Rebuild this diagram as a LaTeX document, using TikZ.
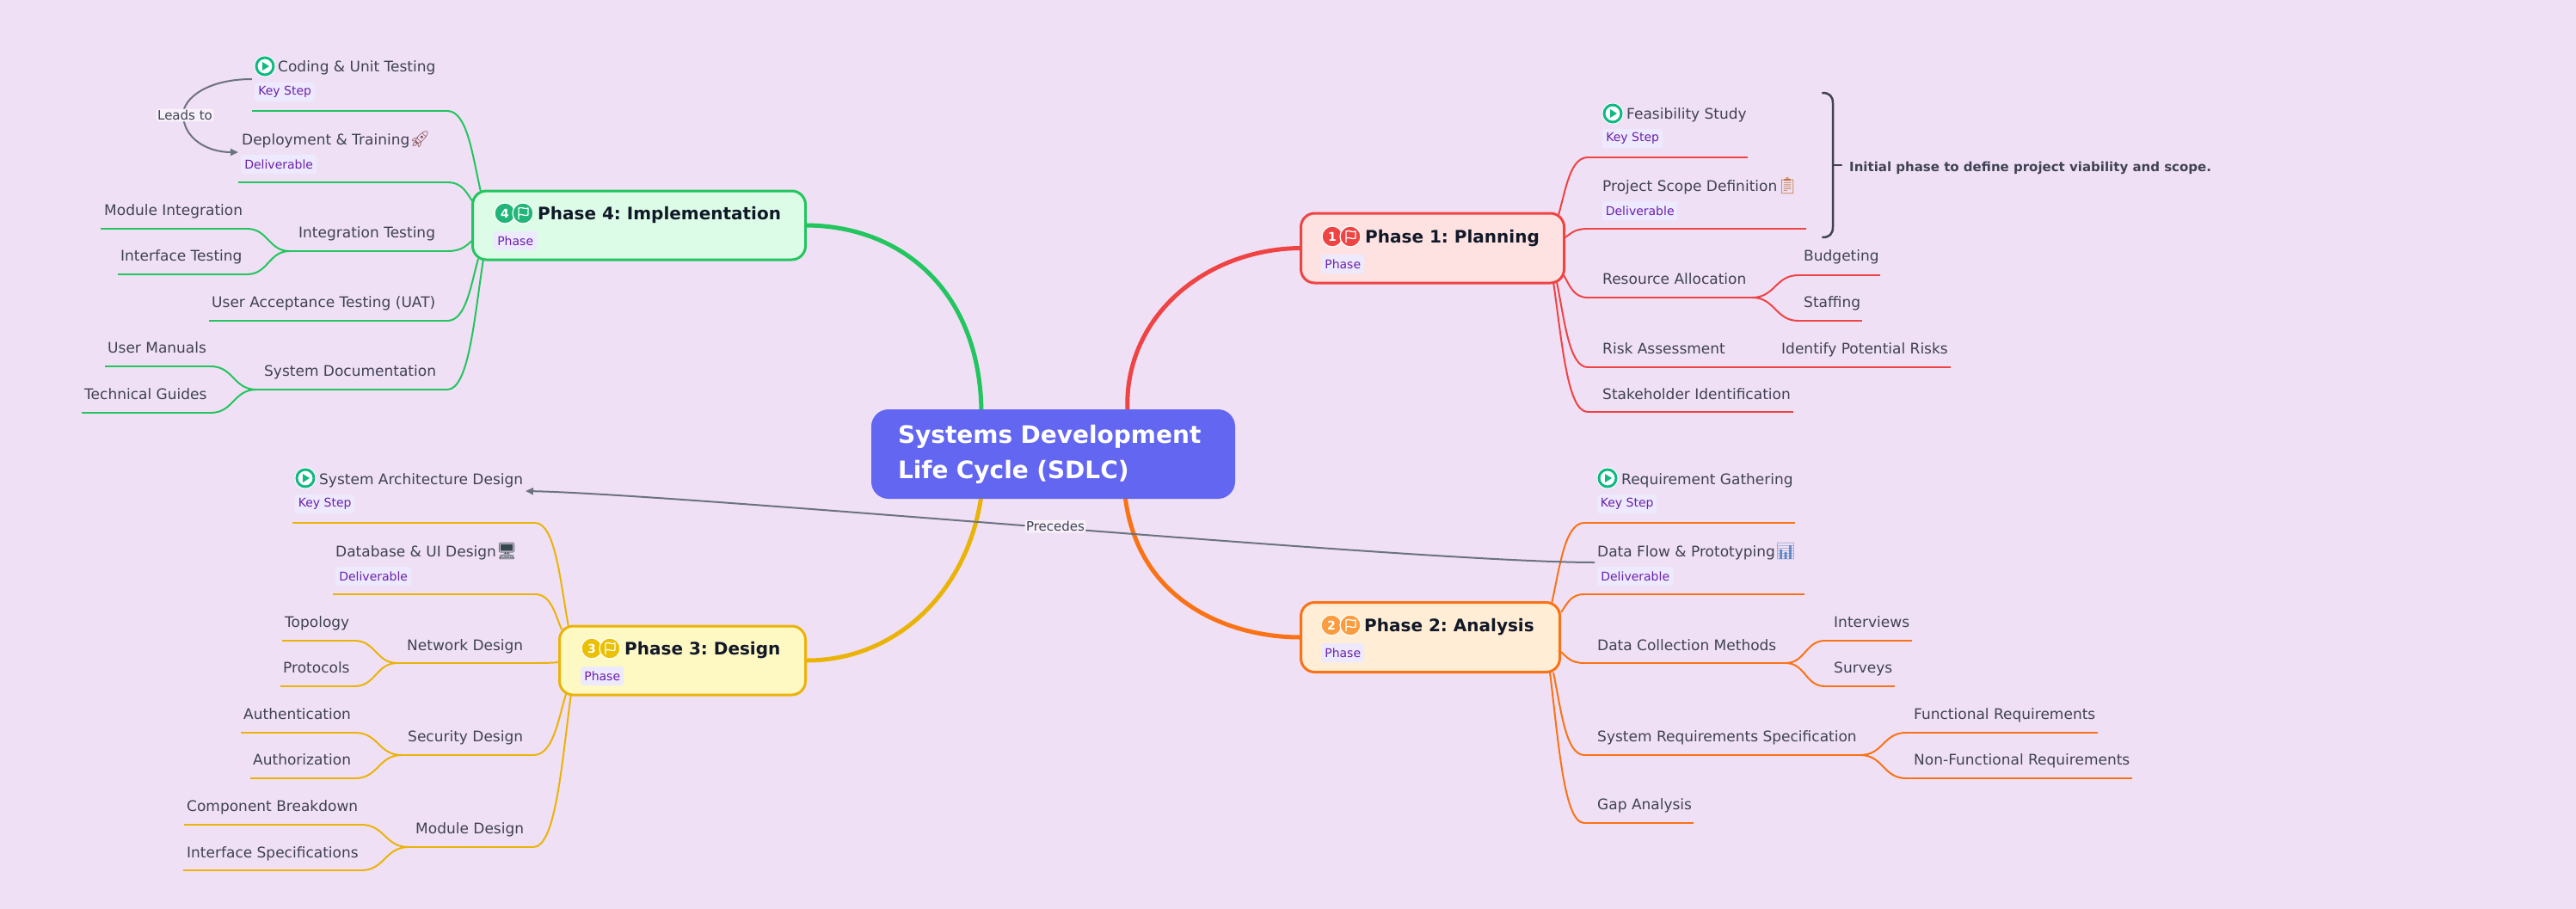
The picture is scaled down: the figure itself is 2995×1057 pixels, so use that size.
\documentclass[tikz,border=0pt]{standalone}
\usepackage{fontspec}
\setmainfont{DejaVu Sans}
\newfontfamily\emojifont{Noto Emoji}
\usetikzlibrary{arrows.meta,calc,backgrounds}
\definecolor{bgc}{HTML}{F0E0F5}
\definecolor{inkc}{HTML}{3F4254}
\definecolor{titlec}{HTML}{111827}
\definecolor{chipc}{HTML}{EDE9FE}
\definecolor{chiptx}{HTML}{6B21A8}
\definecolor{centralc}{HTML}{6366F1}
\definecolor{redc}{HTML}{EF4444}
\definecolor{orac}{HTML}{F97316}
\definecolor{yelc}{HTML}{EAB308}
\definecolor{grnc}{HTML}{22C55E}
\definecolor{redf}{HTML}{FEE2E2}
\definecolor{oraf}{HTML}{FFEDD5}
\definecolor{yelf}{HTML}{FEF9C3}
\definecolor{grnf}{HTML}{DCFCE7}
\definecolor{emer}{HTML}{10B981}
\definecolor{grayc}{HTML}{6B7280}
\definecolor{halo}{HTML}{F8F1FA}
\definecolor{oradot}{HTML}{FB9D3F}
\definecolor{yeldot}{HTML}{EBC000}
\definecolor{grndot}{HTML}{22B57A}
\definecolor{rocketc}{HTML}{8A5560}
\definecolor{clipc}{HTML}{C0763F}
\definecolor{chartc}{HTML}{5E88C4}
\definecolor{deskc}{HTML}{37474F}
\tikzset{
  x=1pt,y=-1pt,
  topic/.style={inner sep=0pt,anchor=base west,text=inkc,font=\fontsize{17}{20}\selectfont},
  phasebox/.style={rectangle,rounded corners=16pt,line width=3pt,inner sep=0pt},
  phasetitle/.style={inner sep=0pt,anchor=base west,text=titlec,font=\fontsize{20}{24}\selectfont\bfseries},
  chipbox/.style={rectangle,rounded corners=3pt,fill=chipc,text=chiptx,inner sep=0pt,minimum height=22pt,anchor=north west,font=\fontsize{14}{16}\selectfont},
  numdot/.style={circle,inner sep=0pt,minimum size=24pt,draw=white,line width=1.2pt,text=white,font=\fontsize{14}{16}\selectfont\bfseries},
  flagline/.style={draw=white,line width=1.3pt,line join=round,fill=none},
  playring/.style={circle,inner sep=0pt,minimum size=20pt,draw=emer,line width=3pt,fill=white},
  branchline/.style={line width=2pt},
  mainline/.style={line width=5pt},
  rel/.style={draw=grayc,line width=2pt,-{Triangle[length=9pt,width=8pt]}},
  rellabel/.style={inner sep=1.5pt,rounded corners=3pt,fill=halo,text=inkc,font=\fontsize{15}{17}\selectfont},
  emoji/.style={inner sep=0pt,anchor=base west,font=\emojifont\fontsize{19}{21}\selectfont},
  bracepath/.style={draw=inkc,line width=2.5pt,line cap=round},
  summary/.style={inner sep=0pt,anchor=base west,text=inkc,font=\fontsize{15}{18}\selectfont\bfseries}
}
\pgfdeclarelayer{below}
\pgfsetlayers{below,main}
% name, left x, right x, y of a topic's underline
\newcommand{\tline}[4]{\coordinate (#1a) at (#2,#4);\coordinate (#1b) at (#3,#4);\draw[branchline] (#1a)--(#1b);}
% corner of underline to an anchor on the phase box
\newcommand{\kconn}[2]{\draw[branchline] let \p1=(#1),\p2=(#2) in (\p1) .. controls ({\x1+0.6*(\x2-\x1)},\y1) and ({\x2-0.25*(\x2-\x1)},{\y2-0.45*(\y2-\y1)}) .. (\p2);}
% S curve from a junction to a child underline
\newcommand{\sconn}[2]{\draw[branchline] let \p1=(#1),\p2=(#2) in (\p1) .. controls ({0.5*(\x1+\x2)},\y1) and ({0.5*(\x1+\x2)},\y2) .. (\p2);}
\newcommand{\ttext}[4]{\node[topic] (#1) at (#2,#3) {#4};}
\newcommand{\chip}[5]{\node[chipbox,minimum width=#4] (#1) at (#2,#3) {#5};}
\newcommand{\playmark}[3]{\node[circle,fill=white,minimum size=25pt,inner sep=0pt] (#1h) at (#2,#3) {};\node[playring] (#1) at (#2,#3) {};\fill[emer] ($(#1.center)+(-3,-5)$)--($(#1.center)+(5,0)$)--($(#1.center)+(-3,5)$)--cycle;}
\newcommand{\flagmark}[4]{\node[numdot,fill=#4] (#1) at (#2,#3) {};
  \draw[flagline] ($(#1.center)+(-5,7)$)--($(#1.center)+(-5,-6)$) .. controls ($(#1.center)+(-1,-8)$) and ($(#1.center)+(2,-4)$) .. ($(#1.center)+(6,-6)$)--($(#1.center)+(6,2)$) .. controls ($(#1.center)+(2,4)$) and ($(#1.center)+(-1,0)$) .. ($(#1.center)+(-5,2)$);}
\begin{document}
\frenchspacing
\begin{tikzpicture}
\useasboundingbox (0,0) rectangle (2995,1057);
\begin{pgfonlayer}{below}
\fill[bgc] (0,0) rectangle (2995,1057);
\end{pgfonlayer}

% central
\node[rectangle,rounded corners=20pt,fill=centralc,text=white,inner xsep=31pt,inner ysep=0pt,minimum height=104pt,text width=361pt,align=left,font=\fontsize{28}{41}\selectfont\bfseries] (central) at (1224.5,528) {Systems Development\\Life Cycle (SDLC)};
\coordinate (c1) at (1311,480);
\coordinate (c2) at (1308,576);
\coordinate (c3) at (1141,576);
\coordinate (c4) at (1141,480);

% phases
\node[phasebox,draw=redc,fill=redf,minimum width=306pt,minimum height=81pt] (p1) at (1665.5,288.5) {};
\node[phasebox,draw=orac,fill=oraf,minimum width=301pt,minimum height=81pt] (p2) at (1663,741) {};
\node[phasebox,draw=yelc,fill=yelf,minimum width=286pt,minimum height=80pt] (p3) at (793.5,768) {};
\node[phasebox,draw=grnc,fill=grnf,minimum width=387pt,minimum height=80pt] (p4) at (743,262) {};

\node[numdot,fill=redc] (n1) at (1549,275) {1};
\flagmark{f1}{1570}{275}{redc}
\node[phasetitle] (t1) at (1587,282) {Phase 1: Planning};
\chip{k1}{1536}{296}{50pt}{Phase}
\node[numdot,fill=oradot] (n2) at (1548,727) {2};
\flagmark{f2}{1570}{727}{oradot}
\node[phasetitle] (t2) at (1586,734) {Phase 2: Analysis};
\chip{k2}{1536}{748}{50pt}{Phase}
\node[numdot,fill=yeldot] (n3) at (688,754) {3};
\flagmark{f3}{709}{754}{yeldot}
\node[phasetitle] (t3) at (726,761) {Phase 3: Design};
\chip{k3}{675}{775}{50pt}{Phase}
\node[numdot,fill=grndot] (n4) at (587,248) {4};
\flagmark{f4}{608}{248}{grndot}
\node[phasetitle] (t4) at (625,255) {Phase 4: Implementation};
\chip{k4}{574}{269}{50pt}{Phase}

% main branches
\begin{pgfonlayer}{below}
\draw[mainline,redc] (p1.west) .. controls (1400,290) and (1305,370) .. (c1);
\draw[mainline,orac] (p2.west) .. controls (1430,741) and (1322,700) .. (c2);
\draw[mainline,yelc] (p3.east) .. controls (1040,768) and (1125,690) .. (c3);
\draw[mainline,grnc] (p4.east) .. controls (1050,263) and (1140,340) .. (c4);
\end{pgfonlayer}

% ---------- Phase 1 ----------
\playmark{ip11}{1875}{132}
\ttext{a11}{1891}{138}{Feasibility Study}
\chip{c11}{1863}{150}{70pt}{Key Step}
\ttext{a12}{1863}{222}{Project Scope Definition}
\node[emoji,text=clipc] (e12) at (2066,222) {📋};
\chip{c12}{1863}{234}{87pt}{Deliverable}
\ttext{a13}{1863}{330}{Resource Allocation}
\ttext{a131}{2097}{303}{Budgeting}
\ttext{a132}{2097}{357}{Staffing}
\ttext{a14}{1863}{411}{Risk Assessment}
\ttext{a141}{2071}{411}{Identify Potential Risks}
\ttext{a15}{1863}{464}{Stakeholder Identification}
\begin{pgfonlayer}{below}
\begin{scope}[color=redc]
\coordinate (r1) at (1812,250);\coordinate (r2) at (1820,276);\coordinate (r3) at (1818,320);\coordinate (r4) at (1810,328);\coordinate (r5) at (1806,328);
\tline{l11}{1846}{2032}{183}\kconn{l11a}{r1}
\tline{l12}{1846}{2100}{266}\kconn{l12a}{r2}
\tline{l13}{1846}{2037}{346}\kconn{l13a}{r3}
\tline{l131}{2091}{2186}{320}\sconn{l13b}{l131a}
\tline{l132}{2091}{2165}{373}\sconn{l13b}{l132a}
\tline{l14}{1846}{2268}{427}\kconn{l14a}{r4}
\tline{l15}{1846}{2085}{479}\kconn{l15a}{r5}
\end{scope}
\end{pgfonlayer}
% summary brace
\coordinate (bt) at (2119,108);
\coordinate (bb) at (2119,276);
\coordinate (bm) at (2131,192);
\coordinate (bx) at (2141,192);
\draw[bracepath] (bt) .. controls (2127,108) and (2131,112) .. (2131,120) -- (2131,264) .. controls (2131,272) and (2127,276) .. (bb);
\draw[bracepath] (bm) -- (bx);
\node[summary] (sum1) at (2150,199) {Initial phase to define project viability and scope.};

% ---------- Phase 2 ----------
\playmark{ip21}{1869}{556}
\ttext{a21}{1885}{563}{Requirement Gathering}
\chip{c21}{1857}{575}{69pt}{Key Step}
\ttext{a22}{1857}{647}{Data Flow \& Prototyping}
\node[emoji,text=chartc] (e22) at (2064,647) {📊};
\chip{c22}{1857}{659}{88pt}{Deliverable}
\ttext{a23}{1857}{756}{Data Collection Methods}
\ttext{a231}{2132}{729}{Interviews}
\ttext{a232}{2132}{782}{Surveys}
\ttext{a24}{1857}{862}{System Requirements Specification}
\ttext{a241}{2225}{836}{Functional Requirements}
\ttext{a242}{2225}{889}{Non-Functional Requirements}
\ttext{a25}{1857}{941}{Gap Analysis}
\begin{pgfonlayer}{below}
\begin{scope}[color=orac]
\coordinate (o1) at (1804,702);\coordinate (o2) at (1815,712);\coordinate (o3) at (1815,758);\coordinate (o4) at (1806,782);\coordinate (o5) at (1802,782);
\tline{l21}{1842}{2087}{608}\kconn{l21a}{o1}
\tline{l22}{1842}{2098}{691}\kconn{l22a}{o2}
\tline{l23}{1842}{2076}{771}\kconn{l23a}{o3}
\tline{l231}{2122}{2223}{745}\sconn{l23b}{l231a}
\tline{l232}{2122}{2203}{798}\sconn{l23b}{l232a}
\tline{l24}{1842}{2163}{878}\kconn{l24a}{o4}
\tline{l241}{2216}{2439}{852}\sconn{l24b}{l241a}
\tline{l242}{2216}{2479}{905}\sconn{l24b}{l242a}
\tline{l25}{1842}{1969}{957}\kconn{l25a}{o5}
\end{scope}
\end{pgfonlayer}

% ---------- Phase 3 ----------
\playmark{ip31}{355}{556}
\ttext{a31}{371}{563}{System Architecture Design}
\chip{c31}{343}{575}{69pt}{Key Step}
\ttext{a32}{390}{647}{Database \& UI Design}
\node[emoji,text=deskc] (e32) at (577,647) {🖥};
\chip{c32}{390}{659}{88pt}{Deliverable}
\ttext{a33}{473}{756}{Network Design}
\ttext{a331}{331}{729}{Topology}
\ttext{a332}{329}{782}{Protocols}
\ttext{a34}{474}{862}{Security Design}
\ttext{a341}{283}{836}{Authentication}
\ttext{a342}{294}{889}{Authorization}
\ttext{a35}{483}{969}{Module Design}
\ttext{a351}{217}{943}{Component Breakdown}
\ttext{a352}{217}{997}{Interface Specifications}
\begin{pgfonlayer}{below}
\begin{scope}[color=yelc]
\coordinate (y1) at (661,729);\coordinate (y2) at (653,732);\coordinate (y3) at (651,770);\coordinate (y4) at (658,807);\coordinate (y5) at (664,807);
\tline{l31}{340}{622}{608}\kconn{l31b}{y1}
\tline{l32}{387}{622}{691}\kconn{l32b}{y2}
\tline{l33}{462}{622}{771}\kconn{l33b}{y3}
\tline{l331}{328}{412}{745}\sconn{l33a}{l331b}
\tline{l332}{326}{412}{798}\sconn{l33a}{l332b}
\tline{l34}{467}{620}{878}\kconn{l34b}{y4}
\tline{l341}{280}{413}{852}\sconn{l34a}{l341b}
\tline{l342}{291}{413}{905}\sconn{l34a}{l342b}
\tline{l35}{475}{620}{985}\kconn{l35b}{y5}
\tline{l351}{214}{420}{959}\sconn{l35a}{l351b}
\tline{l352}{213}{420}{1012}\sconn{l35a}{l352b}
\end{scope}
\end{pgfonlayer}

% ---------- Phase 4 ----------
\playmark{ip41}{308}{77}
\ttext{a41}{323}{84}{Coding \& Unit Testing}
\chip{c41}{296}{96}{70pt}{Key Step}
\ttext{a42}{281}{168}{Deployment \& Training}
\node[emoji,text=rocketc] (e42) at (476,168) {🚀};
\chip{c42}{280}{180}{88pt}{Deliverable}
\ttext{a43}{347}{276}{Integration Testing}
\ttext{a431}{121}{250}{Module Integration}
\ttext{a432}{140}{303}{Interface Testing}
\ttext{a44}{246}{357}{User Acceptance Testing (UAT)}
\ttext{a45}{307}{437}{System Documentation}
\ttext{a451}{125}{410}{User Manuals}
\ttext{a452}{98}{464}{Technical Guides}
\begin{pgfonlayer}{below}
\begin{scope}[color=grnc]
\coordinate (g1) at (559,223);\coordinate (g2) at (550,235);\coordinate (g3) at (550,279);\coordinate (g4) at (556,301);\coordinate (g5) at (562,301);
\tline{l41}{293}{520}{129}\kconn{l41b}{g1}
\tline{l42}{277}{520}{212}\kconn{l42b}{g2}
\tline{l43}{337}{520}{292}\kconn{l43b}{g3}
\tline{l431}{117}{287}{266}\sconn{l43a}{l431b}
\tline{l432}{137}{287}{319}\sconn{l43a}{l432b}
\tline{l44}{243}{520}{373}\kconn{l44b}{g4}
\tline{l45}{298}{520}{453}\kconn{l45b}{g5}
\tline{l451}{122}{245}{426}\sconn{l45a}{l451b}
\tline{l452}{95}{245}{480}\sconn{l45a}{l452b}
\end{scope}
\end{pgfonlayer}

% relations
\coordinate (rs1) at (293,92);
\coordinate (re1) at (277,177);
\coordinate (rs2) at (1854,654);
\coordinate (re2) at (611,571);
\draw[rel] (rs1) .. controls (240,92) and (213,115) .. (213,133) .. controls (213,160) and (240,177) .. (re1);
\node[rellabel] (lead) at (215,134) {Leads to};
\draw[rel] (rs2) .. controls (1650,654) and (800,575) .. (re2);
\node[rellabel] (prec) at (1227,612) {Precedes};
\end{tikzpicture}
\end{document}
